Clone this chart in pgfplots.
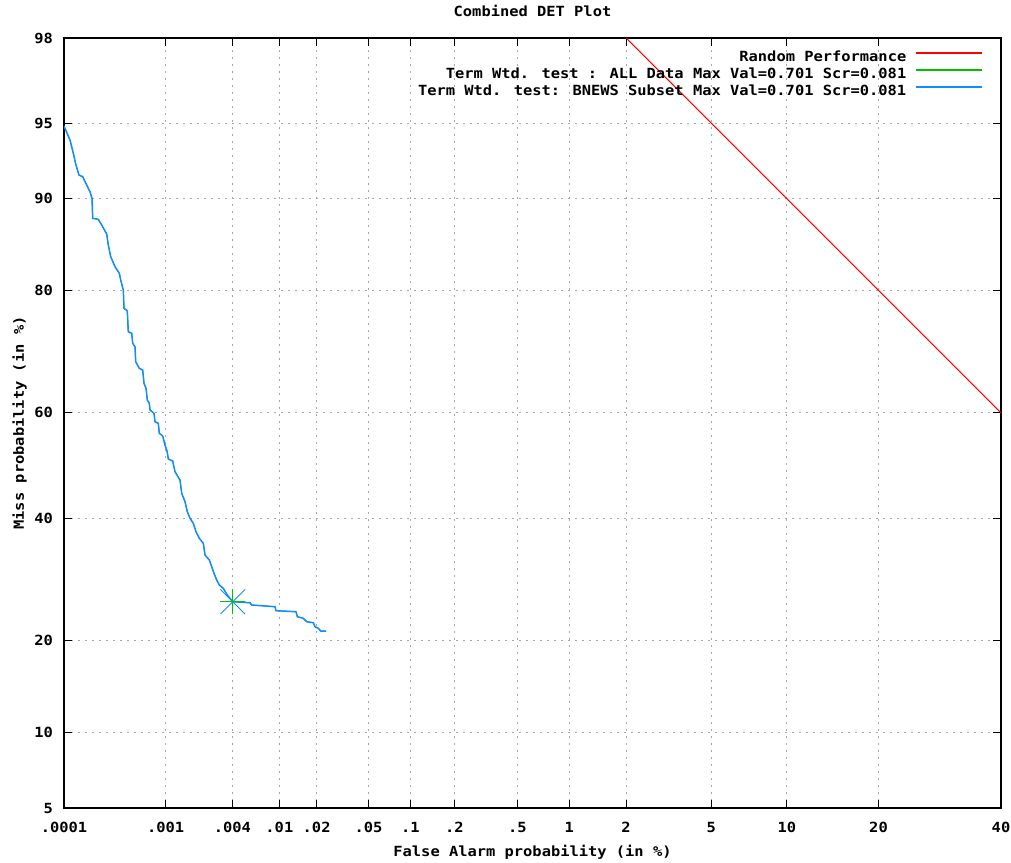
\documentclass[border=0pt]{standalone}
\usepackage{fontspec}
\setmainfont{DejaVu Sans Mono Bold}[FakeStretch=1.1]
\usepackage{pgfplots}
\usepackage{pgfplotstable}
\pgfplotsset{compat=1.18}
\newcommand{\gf}{\fontsize{14}{16}\selectfont}
\definecolor{gpred}{RGB}{255,0,0}
\definecolor{gpgreen}{RGB}{0,192,0}
\definecolor{gpblue}{RGB}{20,140,255}
% DET curve, both columns in normal-deviate (probit) units of the probabilities
\pgfplotstableread{
x y
-4.7534 1.6308
-4.7246 1.5636
-4.7087 1.4997
-4.6958 1.4435
-4.6814 1.3954
-4.6636 1.3873
-4.6444 1.3474
-4.6285 1.3152
-4.6189 1.2835
-4.6156 1.1875
-4.5887 1.1827
-4.5723 1.1553
-4.5483 1.1121
-4.5406 1.0592
-4.5291 1.0030
-4.5084 0.9550
-4.4878 0.9233
-4.4811 0.8911
-4.4686 0.8431
-4.4652 0.7552
-4.4494 0.7437
-4.4446 0.6428
-4.4282 0.6351
-4.4234 0.5871
-4.4124 0.5708
-4.4090 0.4987
-4.3917 0.4670
-4.3754 0.4588
-4.3692 0.3950
-4.3595 0.3710
-4.3533 0.3148
-4.3437 0.2989
-4.3403 0.2667
-4.3211 0.2509
-4.3163 0.2105
-4.3005 0.2028
-4.2957 0.1548
-4.2793 0.1418
-4.2683 0.0986
-4.2587 0.0698
-4.2524 0.0314
-4.2313 0.0218
-4.2203 -0.0296
-4.1962 -0.0695
-4.1881 -0.1334
-4.1722 -0.1737
-4.1612 -0.2217
-4.1482 -0.2535
-4.1324 -0.2775
-4.1194 -0.3178
-4.1035 -0.3495
-4.0843 -0.3735
-4.0762 -0.4297
-4.0555 -0.4537
-4.0440 -0.4859
-4.0329 -0.5176
-4.0200 -0.5498
-4.0075 -0.5738
-3.9883 -0.5897
-3.9691 -0.6218
-3.9431 -0.6540
-3.8600 -0.6588
-3.8519 -0.6699
-3.7399 -0.6780
-3.7351 -0.6973
-3.6391 -0.7021
-3.6328 -0.7261
-3.6040 -0.7338
-3.5877 -0.7501
-3.5560 -0.7549
-3.5478 -0.7741
-3.5320 -0.7818
-3.5204 -0.7948
-3.4950 -0.7948
}\detcurve
\begin{document}
\begin{tikzpicture}
\begin{axis}[
  name=ax,
  scale only axis,
  width=937pt, height=770pt,
  xmin=-4.7534, xmax=-0.2533,
  ymin=-1.6449, ymax=2.0537,
  xtick={-4.7534,-4.2649,-3.9445,-3.7190,-3.5401,-3.2905,-3.0902,-2.8782,-2.5758,-2.3263,-2.0537,-1.6449,-1.2816,-0.8416,-0.2533},
  xticklabels={.0001,.001,.004,.01,.02,.05,.1,.2,.5,1,2,5,10,20,40},
  ytick={-1.6449,-1.2816,-0.8416,-0.2533,0.2533,0.8416,1.2816,1.6449,2.0537},
  yticklabels={5,10,20,40,60,80,90,95,98},
  minor tick num=0,
  tick align=inside,
  major tick length=8pt,
  tick style={black, line width=1pt},
  axis line style={black, line width=1.2pt},
  grid=major,
  major grid style={gray!70, line width=1pt, dash pattern=on 2pt off 5pt},
  xticklabel style={font=\gf, inner sep=0pt, anchor=north, yshift=-14pt},
  yticklabel style={font=\gf, inner sep=0pt, anchor=east, xshift=-11pt},
  xlabel={False Alarm probability (in \%)},
  ylabel={Miss probability (in \%)},
  xlabel style={font=\gf, at={(axis description cs:0.5,-0.0630)}, anchor=base, inner sep=0pt},
  ylabel style={font=\gf, at={(axis description cs:-0.0427,0.5)}, anchor=base, inner sep=0pt},
  title={Combined DET Plot},
  every axis title shift=0pt,
  title style={font=\gf, at={(axis description cs:0.5,1.0273)}, anchor=base, inner sep=0pt},
  legend plot pos=right,
  legend cell align=right,
  legend image code/.code={\draw[line width=1.5pt,#1] (0pt,4pt) -- (66pt,4pt);},
  legend style={font=\gf, draw=none, fill=none, inner sep=0pt,
    at={(axis description cs:0.9808,0.9844)}, anchor=north east,
    column sep=9pt, row sep=3pt,
    nodes={inner sep=0pt, text height=11pt, text depth=3pt}},
]
\addplot[color=gpred, line width=1pt] coordinates {(-2.0537,2.0537) (-0.2533,0.2533)};
\addlegendentry{Random Performance}
\addplot[color=gpgreen, line width=0.8pt] table {\detcurve};
\addlegendentry{Term Wtd. test : ALL Data Max Val=0.701 Scr=0.081}
\addplot[color=gpblue, line width=1.5pt] table {\detcurve};
\addlegendentry{Term Wtd. test: BNEWS Subset Max Val=0.701 Scr=0.081}
\addplot[color=gpblue, only marks, mark=x, mark size=17.5pt, mark options={line width=0.9pt}, forget plot] coordinates {(-3.9431,-0.6540)};
\addplot[color=gpgreen, only marks, mark=+, mark size=12.3pt, mark options={line width=1pt}, forget plot] coordinates {(-3.9431,-0.6540)};
\end{axis}
\pgfresetboundingbox
\path ([xshift=-64pt,yshift=-54pt]ax.south west) rectangle ([xshift=10pt,yshift=38pt]ax.north east);
\end{tikzpicture}
\end{document}
